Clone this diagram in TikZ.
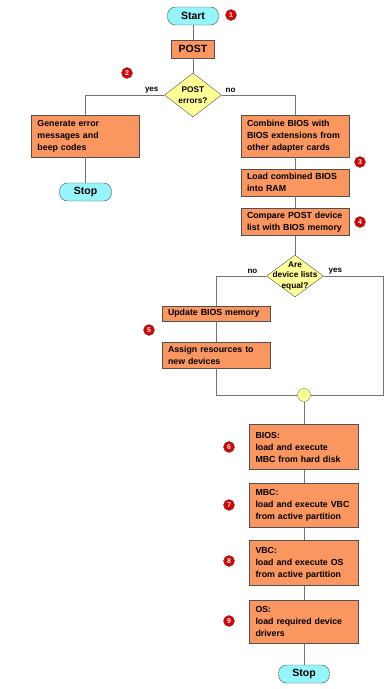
\documentclass[tikz,border=0pt]{standalone}
\usepackage{fontspec}
\setmainfont{Liberation Sans}
\usetikzlibrary{shapes.geometric}

\definecolor{boxorange}{RGB}{250,150,95}
\definecolor{termcyan}{RGB}{150,245,250}
\definecolor{decyellow}{RGB}{255,255,150}
\definecolor{badgered}{RGB}{225,0,0}
\definecolor{linegray}{RGB}{115,115,115}
\definecolor{edgegray}{RGB}{80,80,80}

\tikzset{
  box/.style={rectangle, draw=edgegray, fill=boxorange, text width=96pt, inner xsep=6pt, inner ysep=2pt,
    align=left, minimum height=27pt, font=\bfseries\fontsize{8.8}{12}\selectfont},
  term/.style={rectangle, rounded corners=8pt, draw=edgegray, fill=termcyan, minimum width=51pt,
    minimum height=18pt, inner sep=0pt, font=\bfseries\fontsize{10.5}{12}\selectfont},
  decision/.style={diamond, draw=edgegray, fill=decyellow, inner sep=0pt, minimum width=57pt, minimum height=43pt},
  dtext/.style={align=center, inner sep=0pt, font=\bfseries\fontsize{8.3}{10.5}\selectfont},
  badge/.style={circle, draw=black!70, fill=badgered, text=white, inner sep=0pt, minimum size=11pt,
    font=\bfseries\fontsize{7}{7}\selectfont},
  junction/.style={circle, draw=linegray, fill=decyellow, minimum size=13pt, inner sep=0pt},
  lbl/.style={inner sep=1.5pt, font=\bfseries\fontsize{8}{9}\selectfont},
  link/.style={draw=linegray, line width=0.9pt}
}

\begin{document}
\begin{tikzpicture}[x=1pt, y=-1pt]
				\useasboundingbox (0,0) rectangle (390,689);
				\fill[white] (0,0) rectangle (390,689);

				% 1. 开始与自检
				\node[term] (start) at (193,16) {Start};
				\node[box, text width=31pt, align=center, minimum height=18pt,
				      font=\bfseries\fontsize{10.5}{12}\selectfont] (post) at (193,49) {POST};
				\node[decision, minimum height=44pt, label={[dtext]center:{POST\\errors?}}] (err) at (193,95) {};

				% 2. 出错分支 (左)
				\node[box, minimum height=42pt] (gen) at (85.5,136) {Generate error\\messages and\\beep codes};
				\node[term, minimum width=52pt] (stopA) at (85.5,192) {Stop};

				% 3. 正常分支 (右)
				\node[box, minimum height=42pt] (comb) at (295,136) {Combine BIOS with\\BIOS extensions from\\other adapter cards};
				\node[box] (load) at (295,182.5) {Load combined BIOS\\into RAM};
				\node[box] (comp) at (295,222) {Compare POST device\\list with BIOS memory};
				\node[decision, minimum height=42pt, label={[dtext]center:{Are\\device lists\\equal?}}] (eq) at (295,276) {};

				% 4. 更新设备列表
				\node[box, minimum height=15pt] (upd) at (216,313.5) {Update BIOS memory};
				\node[box, minimum height=26pt] (asg) at (216,355) {Assign resources to\\new devices};

				% 5. 汇合点与引导链
				\node[junction] (jn) at (304,395) {};
				\coordinate (rc) at (383,395);
				\node[box, text width=97pt, minimum height=45pt] (bios) at (304,447) {BIOS:\\load and execute\\MBC from hard disk};
				\node[box, text width=97pt, minimum height=44pt] (mbc) at (304,505.5) {MBC:\\load and execute VBC\\from active partition};
				\node[box, text width=97pt, minimum height=45pt] (vbc) at (304,563) {VBC:\\load and execute OS\\from active partition};
				\node[box, text width=97pt, minimum height=43pt] (os) at (304,621.5) {OS:\\load required device\\drivers};
				\node[term] (stopB) at (304,674) {Stop};

				% 6. 连线
				\draw[link] (start) -- (post);
				\draw[link] (post) -- (err);
				\draw[link] (err.west) -| node[lbl, above left, pos=0, xshift=-4pt] {yes} (gen.north);
				\draw[link] (gen) -- (stopA);
				\draw[link] (err.east) -| node[lbl, above right, pos=0, xshift=2pt] {no} (comb.north);
				\draw[link] (comb) -- (load);
				\draw[link] (load) -- (comp);
				\draw[link] (comp) -- (eq);
				\draw[link] (eq.west) -| node[lbl, above left, pos=0, xshift=-7pt] {no} (upd.north);
				\draw[link] (upd) -- (asg);
				\draw[link] (asg.south) |- (jn.west);
				\draw[link] (eq.east) -| node[lbl, above right, pos=0, xshift=3pt] {yes} (rc) -- (jn.east);
				\draw[link] (jn) -- (bios);
				\draw[link] (bios) -- (mbc);
				\draw[link] (mbc) -- (vbc);
				\draw[link] (vbc) -- (os);
				\draw[link] (os) -- (stopB);

				% 7. 步骤编号
				\node[badge] (n1) at (231,15) {1};
				\node[badge] (n2) at (127,73) {2};
				\node[badge] (n3) at (360,162) {3};
				\node[badge] (n4) at (360,222) {4};
				\node[badge] (n5) at (149,330) {5};
				\node[badge] (n6) at (229,447) {6};
				\node[badge] (n7) at (229,505) {7};
				\node[badge] (n8) at (229,561) {8};
				\node[badge] (n9) at (229,621) {9};
\end{tikzpicture}
\end{document}
